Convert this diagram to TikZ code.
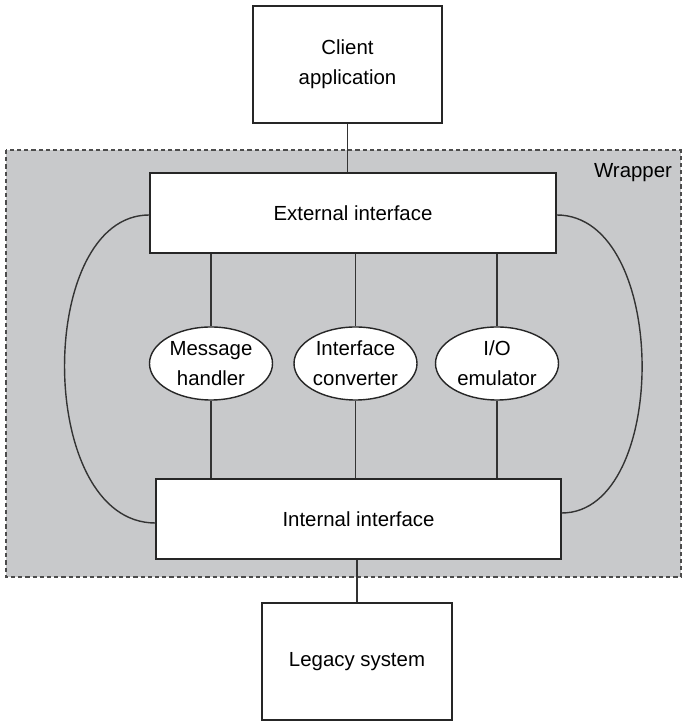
\documentclass[tikz,border=0pt]{standalone}
\usepackage{fontspec}
\setmainfont{Liberation Sans}
\usetikzlibrary{shapes.geometric}
\definecolor{wrapgray}{RGB}{200,201,203}

\begin{document}
\begin{tikzpicture}[x=0.5pt, y=0.5pt, font=\fontsize{10.2pt}{15pt}\selectfont,
  box/.style={draw=black!85, fill=white, line width=0.7pt, align=center, inner sep=0pt},
  blob/.style={ellipse, draw=black!85, fill=white, line width=0.7pt, align=center, inner sep=0pt,
    minimum width=61.5pt, minimum height=36.5pt},
  link/.style={black!80, line width=0.7pt}]
\useasboundingbox (0,0) rectangle (684,721);
\draw[fill=wrapgray, draw=black!70, line width=0.7pt, dash pattern=on 2.1pt off 1.5pt] (6,571) rectangle (681,144);
\node (wraplabel) at (633,548) {Wrapper};
\node[box, minimum width=94.5pt, minimum height=58.5pt] (client) at (347.5,656.5) {Client\\application};
\node[box, minimum width=203pt, minimum height=40pt] (ext) at (353,508) {External interface};
\node[blob] (msg) at (211,357.5) {Message\\handler};
\node[blob] (conv) at (355.5,357.5) {Interface\\converter};
\node[blob] (emu) at (497,357.5) {I/O\\emulator};
\node[box, minimum width=202.5pt, minimum height=40pt] (int) at (358.5,202) {Internal interface};
\node[box, minimum width=95pt, minimum height=58.5pt] (legacy) at (357,59.5) {Legacy system};
\draw[link] (client.south) -- (client.south |- ext.north);
\draw[link] (msg.north |- ext.south) -- (msg.north);
\draw[link] (conv.north |- ext.south) -- (conv.north);
\draw[link] (emu.north |- ext.south) -- (emu.north);
\draw[link] (msg.south) -- (msg.south |- int.north);
\draw[link] (conv.south) -- (conv.south |- int.north);
\draw[link] (emu.south) -- (emu.south |- int.north);
\draw[link] (legacy.north |- int.south) -- (legacy.north);
\draw[link] ([yshift=-1pt]ext.west) .. controls +(-114,0) and +(-120,0) .. ([yshift=-2pt]int.west);
\draw[link] ([yshift=-1pt]ext.east) .. controls +(113,0) and +(108,0) .. ([yshift=3pt]int.east);
\end{tikzpicture}
\end{document}
